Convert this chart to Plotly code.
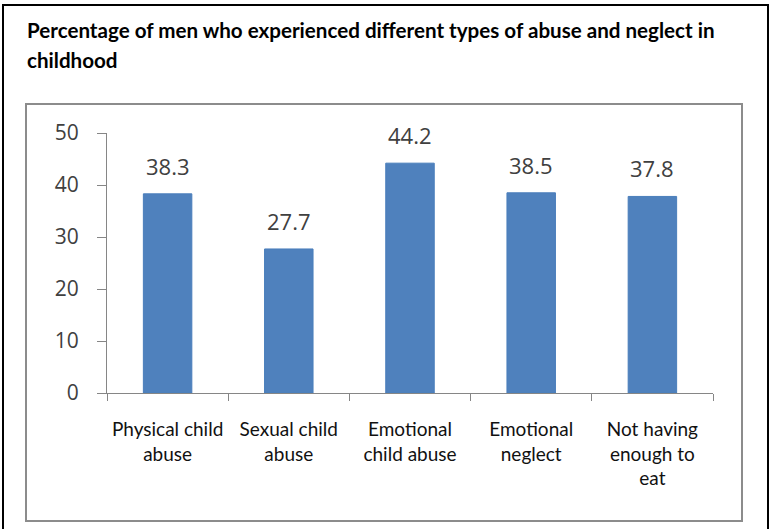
import plotly.graph_objects as go

categories = ["Physical child<br>abuse", "Sexual child<br>abuse", "Emotional<br>child abuse",
              "Emotional<br>neglect", "Not having<br>enough to<br>eat"]
values = [38.3, 27.7, 44.2, 38.5, 37.8]
value_labels = ["38.3", "27.7", "44.2", "38.5", "37.8"]
y_ticks = [0, 10, 20, 30, 40, 50]
title_line1 = "Percentage of men who experienced different types of abuse and neglect in"
title_line2 = "childhood"

W, H = 773, 529
# plot area in window pixels
L, R, T, B = 107, 713, 133, 393

def px_x(p):
    return (p - L) / (R - L)

def px_y(p):
    return (B - p) / (B - T)

fig = go.Figure()
fig.add_trace(go.Bar(
    x=categories, y=values,
    marker=dict(color="#4F81BD", line=dict(color="#4A7EBB", width=1)),
    hoverinfo="skip",
))

for c, v, t in zip(categories, values, value_labels):
    fig.add_annotation(x=c, y=v, text=t, showarrow=False, yanchor="bottom", yshift=11,
                       font=dict(family="Open Sans", size=22, color="#404040"))

fig.add_annotation(xref="paper", yref="paper", x=px_x(25), y=px_y(30), xanchor="left", yanchor="middle",
                   text="<b>" + title_line1 + "</b>", showarrow=False,
                   font=dict(family="Lato", size=20.6, color="#000000"))
fig.add_annotation(xref="paper", yref="paper", x=px_x(25), y=px_y(60), xanchor="left", yanchor="middle",
                   text="<b>" + title_line2 + "</b>", showarrow=False,
                   font=dict(family="Lato", size=20.6, color="#000000"))

fig.add_shape(type="rect", xref="paper", yref="paper",
              x0=px_x(3), x1=px_x(768), y0=px_y(5), y1=px_y(545),
              line=dict(color="#000000", width=2), layer="below")
fig.add_shape(type="rect", xref="paper", yref="paper",
              x0=px_x(26), x1=px_x(742), y0=px_y(104), y1=px_y(521),
              line=dict(color="#8C8C8C", width=2), layer="below")

fig.update_layout(
    width=W, height=H,
    margin=dict(l=L, r=W - R, t=T, b=H - B, pad=0),
    paper_bgcolor="white", plot_bgcolor="white",
    bargap=0.6, showlegend=False,
    xaxis=dict(
        type="category", tickson="boundaries", ticks="outside", ticklen=7, tickcolor="#868686",
        showline=True, linecolor="#868686", linewidth=1, showgrid=False,
        tickfont=dict(family="Lato", size=19, color="#111111"), ticklabelstandoff=19,
        fixedrange=True,
    ),
    yaxis=dict(
        range=[0, 50], tickvals=y_ticks, ticks="outside", ticklen=9, tickcolor="#868686",
        showline=True, linecolor="#868686", linewidth=1, showgrid=False, zeroline=False,
        tickfont=dict(family="Open Sans", size=21, color="#404040"), ticklabelstandoff=14,
        fixedrange=True,
    ),
)

fig.write_html("out.html", config={"displayModeBar": False},
               post_script="document.body.style.margin='0';document.body.style.overflow='hidden';")
